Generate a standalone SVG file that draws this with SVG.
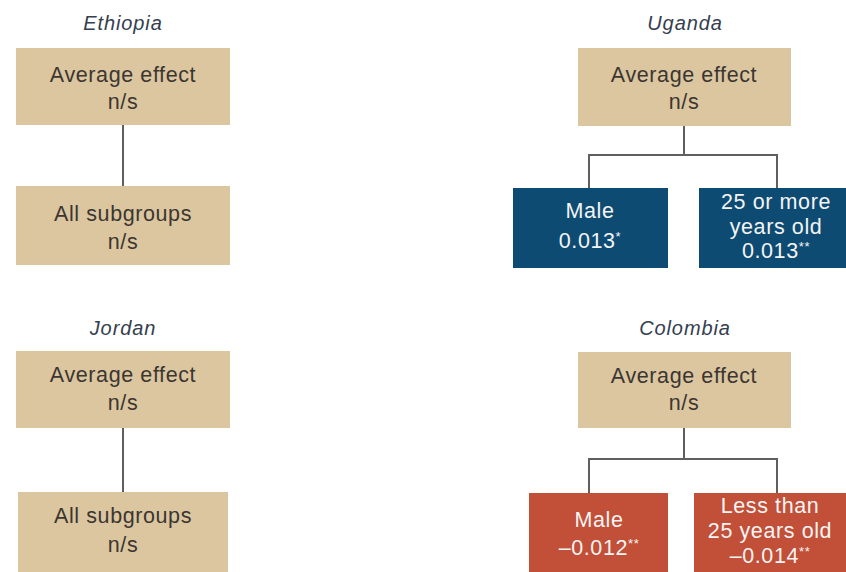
<svg xmlns="http://www.w3.org/2000/svg" width="846" height="572" viewBox="0 0 846 572">
<style>
.tan{fill:#dcc6a0}
.blue{fill:#0e4b73}
.red{fill:#c24f37}
.t{font-family:"Liberation Sans",Arial,sans-serif;font-size:21.5px;letter-spacing:0.6px;text-anchor:middle;fill:#3b3631}
.w{fill:#f4f4f4}
.title{font-family:"Liberation Sans",Arial,sans-serif;font-size:20px;letter-spacing:0.9px;font-style:italic;text-anchor:middle;fill:#34404f}
.sup{font-size:13px}
.c{fill:none;stroke:#5f5f5f;stroke-width:2}
</style>
<rect width="846" height="572" fill="#ffffff"/>
<g id="connectors">
<path class="c" d="M123 125V186"/>
<path class="c" d="M123 428V492"/>
<path class="c" d="M684 126V155M589 188V155H777V188"/>
<path class="c" d="M684 428V459M589 493V459H777V493"/>
</g>
<g id="title-ethiopia"><text class="title" x="123" y="30">Ethiopia</text></g>
<g id="title-uganda"><text class="title" x="685" y="30">Uganda</text></g>
<g id="title-jordan"><text class="title" x="123" y="335">Jordan</text></g>
<g id="title-colombia"><text class="title" x="685" y="335">Colombia</text></g>
<g id="eth-avg"><rect class="tan" x="16" y="48" width="214" height="77"/><text class="t" x="123" y="82">Average effect</text><text class="t" x="123" y="109">n/s</text></g>
<g id="eth-all"><rect class="tan" x="16" y="186" width="214" height="79"/><text class="t" x="123" y="221">All subgroups</text><text class="t" x="123" y="249">n/s</text></g>
<g id="jor-avg"><rect class="tan" x="16" y="351" width="214" height="77"/><text class="t" x="123" y="382">Average effect</text><text class="t" x="123" y="410">n/s</text></g>
<g id="jor-all"><rect class="tan" x="18" y="492" width="210" height="80"/><text class="t" x="123" y="523">All subgroups</text><text class="t" x="123" y="552">n/s</text></g>
<g id="uga-avg"><rect class="tan" x="578" y="48" width="213" height="78"/><text class="t" x="684" y="82">Average effect</text><text class="t" x="684" y="109">n/s</text></g>
<g id="uga-male"><rect class="blue" x="513" y="188" width="155" height="80"/><text class="t w" x="590" y="218">Male</text><text class="t w" x="590" y="248">0.013<tspan class="sup" dy="-7">*</tspan></text></g>
<g id="uga-age"><rect class="blue" x="699" y="188" width="147" height="80"/><text class="t w" x="776" y="209">25 or more</text><text class="t w" x="776" y="234">years old</text><text class="t w" x="776" y="258">0.013<tspan class="sup" dy="-7">**</tspan></text></g>
<g id="col-avg"><rect class="tan" x="578" y="352" width="213" height="76"/><text class="t" x="684" y="383">Average effect</text><text class="t" x="684" y="410">n/s</text></g>
<g id="col-male"><rect class="red" x="529" y="493" width="139" height="79"/><text class="t w" x="599" y="527">Male</text><text class="t w" x="599" y="555">–0.012<tspan class="sup" dy="-7">**</tspan></text></g>
<g id="col-age"><rect class="red" x="694" y="493" width="152" height="79"/><text class="t w" x="770" y="513">Less than</text><text class="t w" x="770" y="538">25 years old</text><text class="t w" x="770" y="563">–0.014<tspan class="sup" dy="-7">**</tspan></text></g>
</svg>
